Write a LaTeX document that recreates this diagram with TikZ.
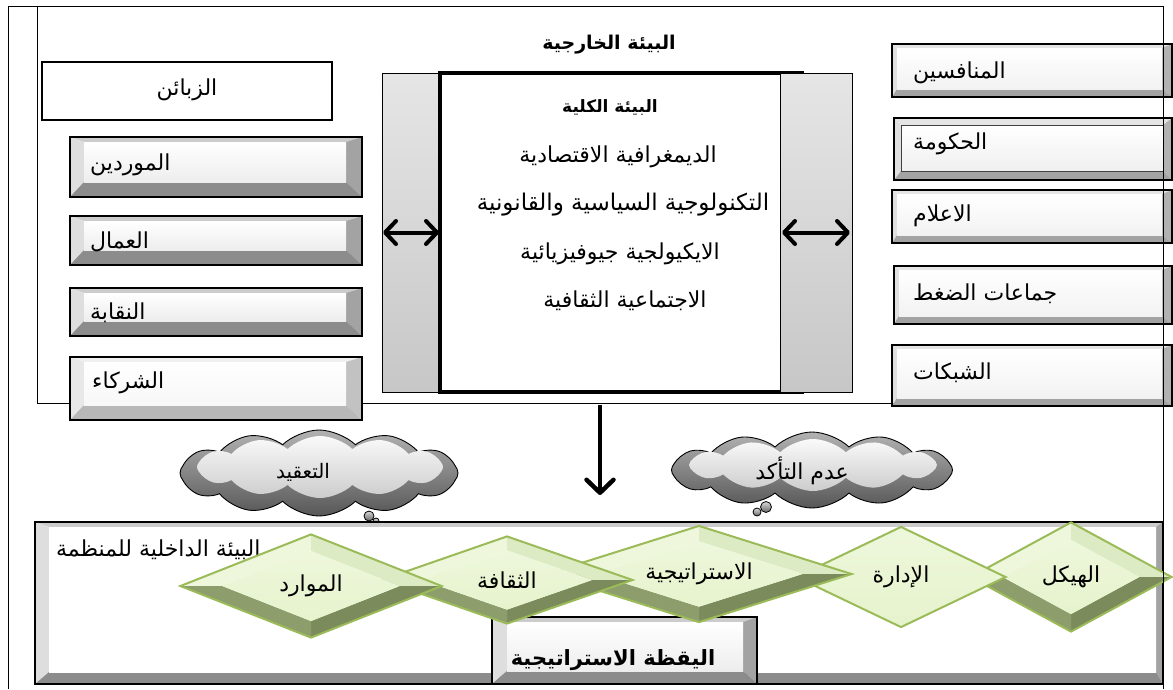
\documentclass[tikz,border=0pt]{standalone}
\usepackage{fontspec}
\usetikzlibrary{shapes.geometric,shapes.symbols,arrows.meta,calc}
\TeXXeTstate=1
\newfontfamily\arabicfont[Script=Arabic]{DejaVu Sans}
\newcommand\artext[1]{{\arabicfont\beginR #1\endR}}
\newcommand\arbold[1]{{\arabicfont\bfseries\beginR #1\endR}}

\definecolor{leafline}{HTML}{9BBB59}
\definecolor{leafpale}{HTML}{EEF7DC}
\definecolor{leaflight}{HTML}{DCEBC3}
\definecolor{leafface}{HTML}{E6F3CC}
\definecolor{olivedark}{HTML}{7B8B5C}
\definecolor{olivemid}{HTML}{8D9D6B}

% facets of a bevelled rectangle; insets: left, top, right, bottom
\newcommand\boxbevel[4]{%
  \coordinate (bA) at (path picture bounding box.north west);
  \coordinate (bB) at (path picture bounding box.north east);
  \coordinate (bC) at (path picture bounding box.south east);
  \coordinate (bD) at (path picture bounding box.south west);
  \coordinate (ba) at ([shift={(#1,-#2)}]bA);
  \coordinate (bb) at ([shift={(-#3,-#2)}]bB);
  \coordinate (bc) at ([shift={(-#3,#4)}]bC);
  \coordinate (bd) at ([shift={(#1,#4)}]bD);
  \fill[bvtop] (bA) -- (bB) -- (bb) -- (ba) -- cycle;
  \fill[bvleft] (bA) -- (ba) -- (bd) -- (bD) -- cycle;
  \fill[bvright] (bB) -- (bC) -- (bc) -- (bb) -- cycle;
  \fill[bvbottom] (bD) -- (bd) -- (bc) -- (bC) -- cycle;
  \shade[bvface] (ba) -- (bb) -- (bc) -- (bd) -- cycle;
}

% facets of a bevelled diamond; argument: size of the inner face
\newcommand\leafbevel[1]{%
  \coordinate (dT) at (path picture bounding box.north);
  \coordinate (dR) at (path picture bounding box.east);
  \coordinate (dB) at (path picture bounding box.south);
  \coordinate (dL) at (path picture bounding box.west);
  \coordinate (dO) at (path picture bounding box.center);
  \coordinate (dt) at ($(dO)!#1!(dT)$);
  \coordinate (dr) at ($(dO)!#1!(dR)$);
  \coordinate (db) at ($(dO)!#1!(dB)$);
  \coordinate (dl) at ($(dO)!#1!(dL)$);
  \fill[leafpale] (dL) -- (dT) -- (dt) -- (dl) -- cycle;
  \fill[leaflight] (dT) -- (dR) -- (dr) -- (dt) -- cycle;
  \fill[olivedark] (dR) -- (dB) -- (db) -- (dr) -- cycle;
  \fill[olivemid] (dB) -- (dL) -- (dl) -- (db) -- cycle;
  \shade[top color=leafpale, bottom color=leafface] (dt) -- (dr) -- (db) -- (dl) -- cycle;
}

\tikzset{
  bvtop/.style={fill=black!22},
  bvleft/.style={fill=black!12},
  bvright/.style={fill=black!35},
  bvbottom/.style={fill=black!45},
  bvface/.style={top color=white, bottom color=black!6},
  greytones/.style={bvtop/.style={fill=black!20}, bvleft/.style={fill=black!13},
    bvright/.style={fill=black!36}, bvbottom/.style={fill=black!45},
    bvface/.style={top color=white, bottom color=black!7}},
  softtones/.style={bvtop/.style={fill=black!10}, bvleft/.style={fill=black!12},
    bvright/.style={fill=black!30}, bvbottom/.style={fill=black!36},
    bvface/.style={top color=white, bottom color=black!5}},
  palettones/.style={bvtop/.style={fill=black!6}, bvleft/.style={fill=black!9},
    bvright/.style={fill=black!24}, bvbottom/.style={fill=black!28},
    bvface/.style={top color=white, bottom color=black!3}},
  bevelbox/.style n args={4}{path picture={\boxbevel{#1}{#2}{#3}{#4}}},
  plainbox/.style={draw=black, line width=2.2pt, fill=white, anchor=north west,
    outer sep=0pt, inner sep=0pt},
  leftbox/.style={draw=black, line width=2.4pt, anchor=north west, outer sep=0pt,
    inner sep=0pt, greytones, bevelbox={14pt}{5pt}{16pt}{15pt}},
  rightbox/.style={draw=black, line width=2.4pt, anchor=north west, outer sep=0pt,
    inner sep=0pt, softtones, bevelbox={5pt}{4pt}{10pt}{8pt}},
  artxt/.style={inner sep=0pt, font=\fontsize{22}{26}\selectfont},
  boldtxt/.style={inner sep=0pt, font=\fontsize{19}{23}\selectfont},
  twoway/.style={line width=4pt,
    {Straight Barb[length=11pt,width=23pt,round]}-{Straight Barb[length=11pt,width=23pt,round]}},
  downward/.style={line width=4.5pt, -{Straight Barb[length=13pt,width=27pt,round]}},
  sidepanel/.style={draw=black, line width=0.9pt, anchor=north west, outer sep=0pt,
    inner sep=0pt, top color=black!10, bottom color=black!22},
  outercloud/.style={cloud, cloud puffs=12, cloud puff arc=88, aspect=3.2,
    draw=black, line width=0.9pt, top color=black!30, bottom color=black!66, inner sep=0pt},
  innercloud/.style={cloud, cloud puffs=12, cloud puff arc=88, aspect=3.6,
    top color=black!2, bottom color=black!20, inner sep=0pt},
  bubble/.style={circle, draw=black, line width=0.8pt, inner sep=0pt,
    top color=black!15, bottom color=black!60},
  leafdiamond/.style={diamond, aspect=3, draw=leafline, line width=2pt, inner sep=0pt,
    path picture={\leafbevel{0.68}}, font=\fontsize{22}{26}\selectfont},
  leafflat/.style={diamond, aspect=3, draw=leafline, line width=2pt, inner sep=0pt,
    top color=leafpale, bottom color=leafface, font=\fontsize{22}{26}\selectfont},
}

\begin{document}
\begin{tikzpicture}[x=1pt,y=-1pt]
\useasboundingbox (0,0) rectangle (1173,689);

% external environment frame
\draw[line width=1pt] (37,6) rectangle (1163,403);
\node[boldtxt] (exttitle) at (609,45) {\arbold{البيئة الخارجية}};

% left column
\node[plainbox, minimum width=290pt, minimum height=58pt] (cust) at (42,62) {};
\node[artxt] (custtxt) at (187,90) {\artext{الزبائن}};
\node[leftbox, minimum width=292pt, minimum height=60pt] (supp) at (70,137) {};
\node[artxt, anchor=west] (supptxt) at (90,165) {\artext{الموردين}};
\node[leftbox, minimum width=292pt, minimum height=49pt] (work) at (70,216) {};
\node[artxt, anchor=west] (worktxt) at (90,242) {\artext{العمال}};
\node[leftbox, minimum width=292pt, minimum height=48pt] (union) at (70,288) {};
\node[artxt, anchor=west] (uniontxt) at (90,313) {\artext{النقابة}};
\node[leftbox, line width=2pt, palettones, minimum width=292pt, minimum height=63pt] (part) at (70,357) {};
\node[artxt, anchor=west] (parttxt) at (92,383) {\artext{الشركاء}};

% macro environment in the middle
\node[sidepanel, minimum width=60pt, minimum height=319pt] (lpanel) at (382,73) {};
\node[draw=black, line width=3.5pt, fill=white, anchor=north west, outer sep=0pt,
  minimum width=362pt, minimum height=319pt] (core) at (440,73) {};
\node[sidepanel, minimum width=72pt, minimum height=319pt] (rpanel) at (780,73) {};
\node[boldtxt, font=\fontsize{17}{21}\selectfont] (coretitle) at (610,108) {\arbold{البيئة الكلية}};
\node[artxt] (macro1) at (618,157) {\artext{الديمغرافية الاقتصادية}};
\node[artxt, font=\fontsize{23}{27}\selectfont] (macro2) at (623,205) {\artext{التكنولوجية السياسية والقانونية}};
\node[artxt] (macro3) at (620,254) {\artext{الايكيولجية جيوفيزيائية}};
\node[artxt] (macro4) at (625,301) {\artext{الاجتماعية الثقافية}};
\draw[twoway, shorten <=1pt, shorten >=3pt] (lpanel.west) -- (lpanel.east);
\draw[twoway, shorten <=2pt, shorten >=2pt] (rpanel.west) -- (rpanel.east);

% right column
\node[rightbox, minimum width=280pt, minimum height=53pt] (comp) at (892,44) {};
\node[artxt, anchor=west] (comptxt) at (913,73) {\artext{المنافسين}};
\node[rightbox, bevelbox={7pt}{7pt}{9pt}{9pt},
  bvface/.style={top color=white, bottom color=black!6, draw=black!75, line width=0.8pt},
  minimum width=278pt, minimum height=62pt] (gov) at (894,118) {};
\node[artxt, anchor=west] (govtxt) at (913,144) {\artext{الحكومة}};
\node[rightbox, minimum width=280pt, minimum height=53pt] (media) at (892,190) {};
\node[artxt, anchor=west] (mediatxt) at (913,216) {\artext{الاعلام}};
\node[rightbox, minimum width=278pt, minimum height=58pt] (lobby) at (894,266) {};
\node[artxt, anchor=west] (lobbytxt) at (913,294) {\artext{جماعات الضغط}};
\node[rightbox, minimum width=280pt, minimum height=61pt] (nets) at (892,345) {};
\node[artxt, anchor=west] (netstxt) at (913,373) {\artext{الشبكات}};

% influence on the organisation
\coordinate (dtop) at (600,405);
\coordinate (dbot) at (600,495);
\draw[downward] (dtop) -- (dbot);

% clouds
\node[outercloud, minimum width=278pt, minimum height=86pt] (cplx) at (319,473) {};
\node[innercloud, minimum width=246pt, minimum height=62pt] (cplxin) at (320,467) {};
\node[artxt, font=\fontsize{20}{24}\selectfont] (cplxtxt) at (303,472) {\artext{التعقيد}};
\node[bubble, minimum size=10pt] (cplxb1) at (369,516) {};
\node[bubble, minimum size=6pt, fill=black!60] (cplxb2) at (376,521) {};
\node[outercloud, minimum width=281pt, minimum height=76pt] (unc) at (812,470) {};
\node[innercloud, minimum width=248pt, minimum height=52pt] (uncin) at (813,465) {};
\node[artxt] (unctxt) at (802,471) {\artext{عدم التأكد}};
\node[bubble, minimum size=11pt] (uncb1) at (766,507) {};
\node[bubble, minimum size=8pt] (uncb2) at (757,512) {};

% internal environment
\node[draw=black, line width=2.4pt, anchor=north west, outer sep=0pt, inner sep=0pt,
  greytones, bevelbox={14pt}{5pt}{7pt}{12pt},
  bvface/.style={top color=white, bottom color=white},
  minimum width=1128pt, minimum height=162pt] (inner) at (35,522) {};
\node[artxt, anchor=west] (innertxt) at (56,550) {\artext{البيئة الداخلية للمنظمة}};
\node[draw=black, line width=2.4pt, anchor=north west, outer sep=0pt, inner sep=0pt,
  greytones, bevelbox={15pt}{5pt}{14pt}{13pt},
  minimum width=265pt, minimum height=67pt] (watch) at (492,617) {};
\node[boldtxt, font=\fontsize{21}{25}\selectfont] (watchtxt) at (613,660) {\arbold{اليقظة الاستراتيجية}};

% components of the organisation
\node[leafdiamond, minimum width=202pt, minimum height=110pt] (struct) at (1071,577) {\artext{الهيكل}};
\node[leafflat, minimum width=210pt, minimum height=101pt] (mgmt) at (901,577) {\artext{الإدارة}};
\node[leafdiamond, minimum width=306pt, minimum height=97pt] (strat) at (699,574) {\artext{الاستراتيجية}};
\node[leafdiamond, minimum width=252pt, minimum height=88pt] (cult) at (507,580) {\artext{الثقافة}};
\node[leafdiamond, minimum width=262pt, minimum height=104pt] (res) at (311,586) {\artext{الموارد}};

% outer frame
\draw[line width=1pt] (8,689) -- (8,6) -- (1163,6) -- (1163,689);
\end{tikzpicture}
\end{document}
